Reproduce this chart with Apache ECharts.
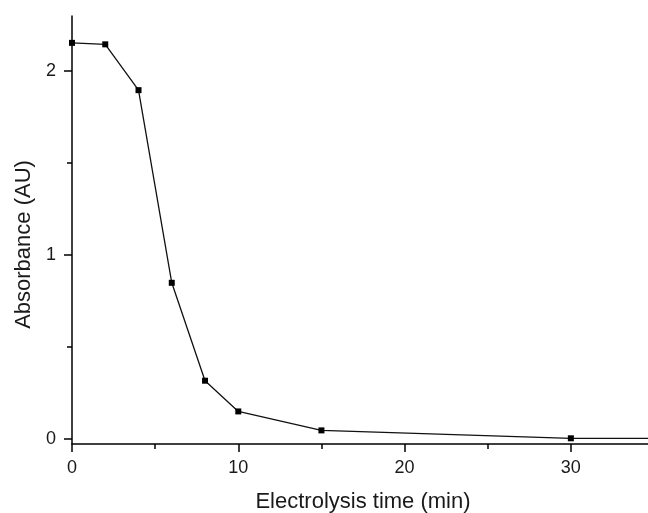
<!DOCTYPE html>
<html>
<head>
<meta charset="utf-8">
<script src="https://cdn.jsdelivr.net/npm/echarts@6/dist/echarts.min.js"></script>
<style>
html,body{margin:0;padding:0;background:#fff;}
#chart{width:648px;height:513px;}
</style>
</head>
<body>
<div id="chart"></div>
<script>
// Data
var timeMin = [0, 2, 4, 6, 8, 10, 15, 30, 40];
var absorbance = [2.154, 2.146, 1.897, 0.85, 0.318, 0.151, 0.048, 0.005, 0.003];
var xMajorTicks = [0, 10, 20, 30];
var xMinorTicks = [5, 15, 25];
var yMajorTicks = [0, 1, 2];
var yMinorTicks = [0.5, 1.5];

var points = timeMin.map(function (t, i) { return [t, absorbance[i]]; });

var FONT = '"Liberation Sans", Arial, sans-serif';
var lineStyle = { color: '#000', width: 1.5 };

var chart = echarts.init(document.getElementById('chart'), null, { renderer: 'canvas' });
chart.setOption({
  animation: false,
  backgroundColor: '#fff',
  grid: { left: 72, right: -6, top: 16, bottom: 69, containLabel: false, outerBoundsMode: 'none' },
  xAxis: [
    {
      type: 'value', min: 0, max: 35, position: 'bottom',
      name: 'Electrolysis time (min)', nameLocation: 'middle', nameGap: 47,
      nameTextStyle: { fontFamily: FONT, fontSize: 22, color: '#1a1a1a' },
      axisLine: { show: true, onZero: false, lineStyle: lineStyle },
      axisTick: { show: true, length: 8, customValues: xMajorTicks, lineStyle: lineStyle },
      axisLabel: { show: true, margin: 15, customValues: xMajorTicks, fontFamily: FONT, fontSize: 18, color: '#1a1a1a' },
      splitLine: { show: false }
    },
    {
      type: 'value', min: 0, max: 35, position: 'bottom',
      axisLine: { show: false, onZero: false },
      axisTick: { show: true, length: 5, customValues: xMinorTicks, lineStyle: lineStyle },
      axisLabel: { show: false },
      splitLine: { show: false }
    }
  ],
  yAxis: [
    {
      type: 'value', min: -0.026, max: 2.3, position: 'left',
      name: 'Absorbance (AU)', nameLocation: 'middle', nameGap: 37, nameRotate: 90,
      nameTextStyle: { fontFamily: FONT, fontSize: 22, color: '#1a1a1a', padding: [0, 29, 0, 0] },
      axisLine: { show: true, onZero: false, lineStyle: lineStyle },
      axisTick: { show: true, length: 8, customValues: yMajorTicks, lineStyle: lineStyle },
      axisLabel: { show: true, margin: 16, customValues: yMajorTicks, fontFamily: FONT, fontSize: 18, color: '#1a1a1a' },
      splitLine: { show: false }
    },
    {
      type: 'value', min: -0.026, max: 2.3, position: 'left',
      axisLine: { show: false, onZero: false },
      axisTick: { show: true, length: 5, customValues: yMinorTicks, lineStyle: lineStyle },
      axisLabel: { show: false },
      splitLine: { show: false }
    }
  ],
  series: [
    {
      type: 'line',
      xAxisIndex: 0, yAxisIndex: 0,
      data: points,
      symbol: 'rect', symbolSize: 6,
      itemStyle: { color: '#000' },
      lineStyle: { color: '#111', width: 1.3 },
      clip: true
    }
  ]
});
</script>
</body>
</html>
